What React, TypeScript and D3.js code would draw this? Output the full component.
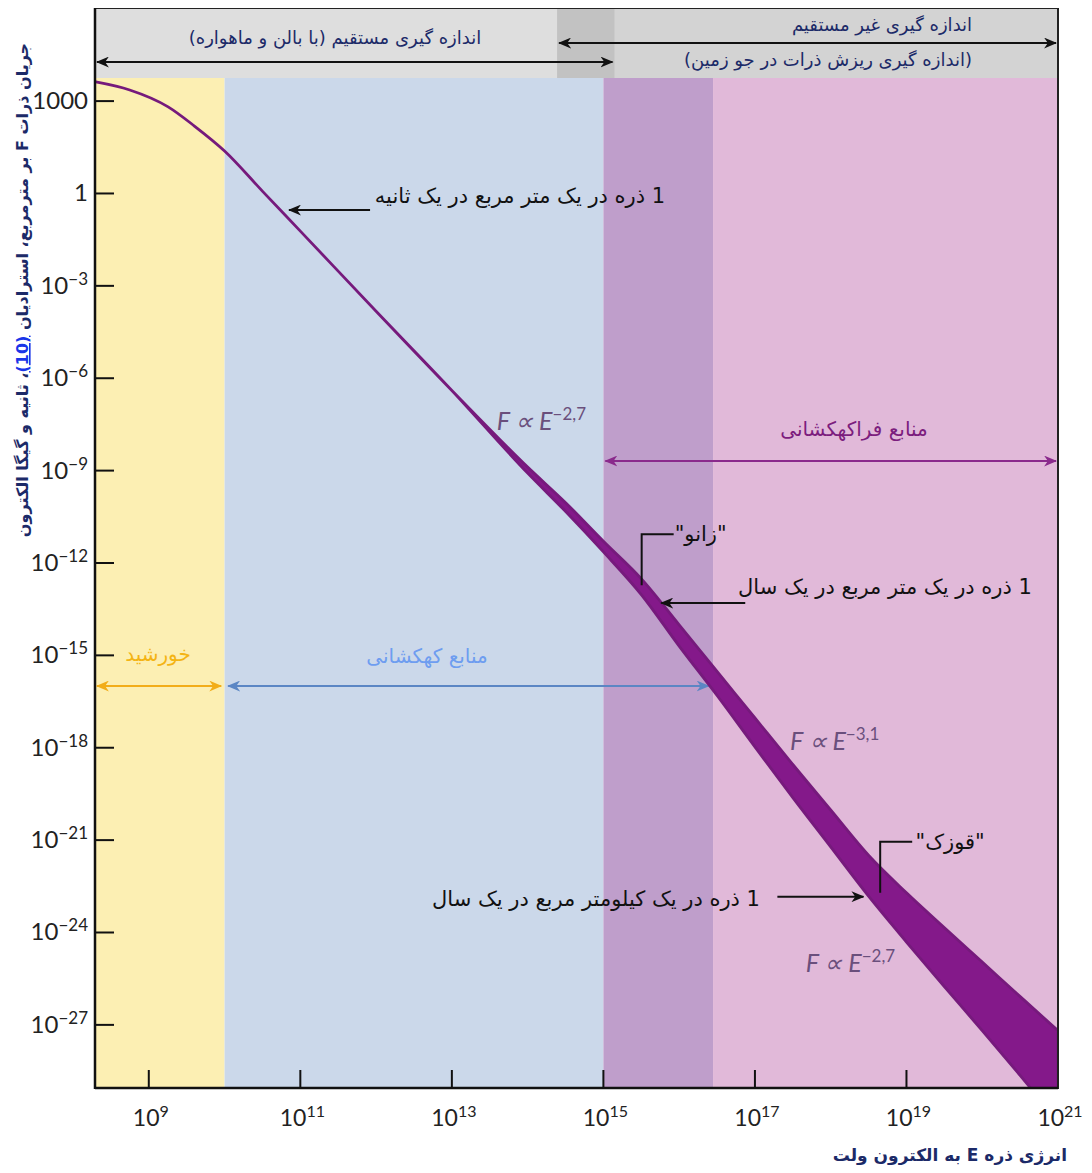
import React from "react";
import * as d3 from "d3";

// energy grid (eV) and the upper / lower edge of the flux band (m^-2 sr^-1 s^-1 GeV^-1)
const spectrumEnergy = [
  2.0e8, 5.6e8, 1.8e9, 4.0e9, 1e10, 3.2e10, 1e11, 1e12, 1e13, 1e14, 3.2e14, 1e15,
  3.2e15, 1e16, 3.2e16, 1e17, 3.2e17, 1e18, 3.2e18, 1e19, 3.2e19, 1e20, 3.2e20, 1e21,
];
const fluxUpper = [
  4.2e3, 2.3e3, 6.5e2, 1.55e2, 24, 1.15, 6.0e-2, 1.5e-4, 4.0e-7, 1.3e-9, 8.9e-11, 5.1e-12,
  3.0e-13, 9.8e-15, 2.9e-16, 9.3e-18, 2.75e-19, 9.5e-21, 3.1e-22, 1.95e-23, 1.4e-24, 1.1e-25,
  8.1e-27, 6.5e-28,
];
const fluxLower = [
  4.2e3, 2.3e3, 6.5e2, 1.55e2, 24, 1.15, 6.0e-2, 1.5e-4, 4.0e-7, 8.3e-10, 4.6e-11, 2.3e-12,
  9.1e-14, 2.0e-15, 4.8e-17, 1.07e-18, 2.3e-20, 6.0e-22, 1.45e-23, 4.9e-25, 1.7e-26, 6.5e-28,
  2.2e-29, 7.6e-31,
];

// shaded energy regions
const regionStart = [1.95e8, 1e10, 1e15, 2.8e16];
const regionEnd = [1e10, 1e15, 2.8e16, 1e21];

// source ranges (arrows)
const sourceNames = ["خورشید", "منابع کهکشانی", "منابع فراکهکشانی"];
const sourceFrom = [1.95e8, 1.05e10, 1e15];
const sourceTo = [9.6e9, 2.6e16, 1e21];

// measurement ranges in the header
const measureFrom = [1.95e8, 2.45e14];
const measureTo = [1.4e15, 1e21];

// reference fluxes pointed at by the arrows
const markerText = [
  "1 ذره در یک متر مربع در یک ثانیه",
  "1 ذره در یک متر مربع در یک سال",
  "1 ذره در یک کیلومتر مربع در یک سال",
];
const markerEnergy = [7.1e10, 5.8e15, 2.7e18];
const markerFlux = [0.29, 5.0e-14, 1.45e-23];

// knee and ankle
const featureNames = ['"زانو"', '"قوزک"'];
const featureEnergy = [3.2e15, 4.5e18];
const featureFlux = [1.9e-13, 1.95e-23];

// power-law labels
const slopeLabels = ["−2,7", "−3,1", "−2,7"];
const slopeEnergy = [3.9e13, 2.9e17, 4.7e17];
const slopeFlux = [2.1e-8, 8.5e-19, 5.2e-26];

const xTickExp = [9, 11, 13, 15, 17, 19, 21];
const yTickExp = [3, 0, -3, -6, -9, -12, -15, -18, -21, -24, -27];

const W = 1092;
const H = 1173;
const left = 95;
const right = 1058;
const top = 8;
const headerH = 70;
const bottom = 1088;

const regionColors = ["#fcefb3", "#cbd8ea", "#bf9ecb", "#e1b9d9"];
const sourceColors = ["#f2ad1a", "#5b86c4", "#8a2a8c"];
const sourceTextColors = ["#f4b414", "#6e9df0", "#7c1d7e"];
const fa = "'DejaVu Sans', 'Noto Sans', sans-serif";
const lat = "Lato, 'Open Sans', sans-serif";
const navy = "#1c2a68";

const App = () => {
  const x = d3.scaleLog().domain([1.95e8, 1e21]).range([left, right]);
  const y = d3.scaleLog().domain([10 ** -29.05, 10 ** 3.75]).range([bottom, top + headerH]);

  const band = d3
    .area<number>()
    .x((i) => x(spectrumEnergy[i]))
    .y0((i) => y(fluxLower[i]))
    .y1((i) => y(fluxUpper[i]))
    .curve(d3.curveMonotoneX);
  const idx = d3.range(spectrumEnergy.length);

  const arrowDefs = [
    { id: "ah-black", c: "#111" },
    { id: "ah-0", c: sourceColors[0] },
    { id: "ah-1", c: sourceColors[1] },
    { id: "ah-2", c: sourceColors[2] },
  ];

  const headerY = [62, 43];
  const sourceY = [686, 686, 461];
  const sourceLabelY = [661, 663, 436];
  const sourceLabelX = [158, 427, 854];

  return (
    <svg width={W} height={H} style={{ display: "block", margin: "-8px" }}>
      <defs>
        {arrowDefs.map((a) => (
          <marker
            key={a.id}
            id={a.id}
            viewBox="0 0 12 10"
            refX="11"
            refY="5"
            markerWidth="13"
            markerHeight="11"
            markerUnits="userSpaceOnUse"
            orient="auto-start-reverse"
          >
            <path d="M0,0 L12,5 L0,10 L3.5,5 Z" fill={a.c} />
          </marker>
        ))}
        <clipPath id="plot-clip">
          <rect x={left} y={top + headerH} width={right - left} height={bottom - top - headerH} />
        </clipPath>
      </defs>
      <rect width={W} height={H} fill="#fff" />

      {/* header */}
      <rect x={left} y={top} width={right - left} height={headerH} fill="#d6d6d6" />
      <rect x={x(measureFrom[0])} y={top} width={x(measureTo[0]) - x(measureFrom[0])} height={headerH} fill="#dedede" />
      <rect x={x(measureFrom[1])} y={top} width={x(measureTo[1]) - x(measureFrom[1])} height={headerH} fill="#d3d3d3" />
      <rect x={x(measureFrom[1])} y={top} width={x(measureTo[0]) - x(measureFrom[1])} height={headerH} fill="#c2c2c2" />

      {/* energy regions */}
      {regionStart.map((s, i) => (
        <rect
          key={i}
          x={x(s)}
          y={top + headerH}
          width={x(regionEnd[i]) - x(s)}
          height={bottom - top - headerH}
          fill={regionColors[i]}
        />
      ))}

      {/* header arrows and text */}
      {measureFrom.map((m, i) => (
        <line
          key={i}
          x1={x(m) + 2}
          x2={x(measureTo[i]) - 2}
          y1={headerY[i]}
          y2={headerY[i]}
          stroke="#111"
          strokeWidth={2}
          markerStart="url(#ah-black)"
          markerEnd="url(#ah-black)"
        />
      ))}
      <g fontFamily={fa} fill={navy} fontSize={18} textAnchor="middle" direction="rtl">
        <text x={335} y={44}>اندازه گیری مستقیم (با بالن و ماهواره)</text>
        <text x={882} y={31}>اندازه گیری غیر مستقیم</text>
        <text x={828} y={66}>(اندازه گیری ریزش ذرات در جو زمین)</text>
      </g>

      {/* source ranges */}
      {sourceNames.map((n, i) => (
        <g key={n}>
          <line
            x1={x(sourceFrom[i]) + 2}
            x2={x(sourceTo[i]) - 2}
            y1={sourceY[i]}
            y2={sourceY[i]}
            stroke={sourceColors[i]}
            strokeWidth={2}
            markerStart={`url(#ah-${i})`}
            markerEnd={`url(#ah-${i})`}
          />
          <text
            x={sourceLabelX[i]}
            y={sourceLabelY[i]}
            fontFamily={fa}
            fontSize={20}
            fill={sourceTextColors[i]}
            textAnchor="middle"
            direction="rtl"
          >
            {n}
          </text>
        </g>
      ))}

      {/* spectrum */}
      <g clipPath="url(#plot-clip)">
        <path d={band(idx) || ""} fill="#84198a" stroke="#761a7c" strokeWidth={2.8} strokeLinejoin="round" />
      </g>

      {/* markers */}
      {markerText.map((t, i) => {
        const tx = x(markerEnergy[i]);
        const ty = y(markerFlux[i]);
        const toRight = i === 2;
        const x0 = toRight ? tx - 86 : tx + (i === 0 ? 81 : 84);
        const textX = [520, 885, 596][i];
        const textY = [203, 594, 906][i];
        return (
          <g key={i}>
            <line x1={x0} x2={tx} y1={ty} y2={ty} stroke="#111" strokeWidth={2} markerEnd="url(#ah-black)" />
            <text x={textX} y={textY} fontFamily={fa} fontSize={21} fill="#111" textAnchor="middle" direction="rtl">
              {t}
            </text>
          </g>
        );
      })}

      {/* knee / ankle brackets */}
      {featureNames.map((n, i) => {
        const fx = x(featureEnergy[i]);
        const fy = y(featureFlux[i]);
        const hy = fy - 51;
        return (
          <g key={n}>
            <path d={`M${fx},${fy} V${hy} H${fx + 32}`} fill="none" stroke="#111" strokeWidth={2} />
            <text x={fx + 59 + i * 11} y={hy + 7} fontFamily={fa} fontSize={21} fill="#111" textAnchor="middle" direction="rtl">
              {n}
            </text>
          </g>
        );
      })}

      {/* power laws */}
      {slopeLabels.map((s, i) => (
        <text key={i} x={x(slopeEnergy[i])} y={y(slopeFlux[i])} fontFamily={lat} fontStyle="italic" fontSize={25} fill="#6a4f7c">
          F ∝ E<tspan dy={-10} fontSize={17} fontStyle="normal">{s}</tspan>
        </text>
      ))}

      {/* frame */}
      <rect x={left} y={top} width={right - left} height={bottom - top} fill="none" stroke="#222" strokeWidth={2} />
      <line x1={left} x2={left} y1={top} y2={bottom + 1} stroke="#111" strokeWidth={2.5} />
      <line x1={left} x2={right} y1={bottom} y2={bottom} stroke="#111" strokeWidth={2.5} />

      {/* y axis */}
      {yTickExp.map((e) => {
        const ty = y(10 ** e);
        return (
          <g key={e}>
            <line x1={left} x2={left + 19} y1={ty} y2={ty} stroke="#111" strokeWidth={2} />
            <text x={88} y={ty + 8} fontFamily={lat} fontSize={24} fill="#222" textAnchor="end">
              {e === 3 ? "1000" : e === 0 ? "1" : (
                <>
                  10<tspan dy={-9} fontSize={17}>{`−${-e}`}</tspan>
                </>
              )}
            </text>
          </g>
        );
      })}

      {/* x axis */}
      {xTickExp.map((e) => {
        const tx = x(10 ** e);
        return (
          <g key={e}>
            {e < 21 && <line x1={tx} x2={tx} y1={bottom} y2={bottom - 18} stroke="#111" strokeWidth={2} />}
            <text x={tx + 2} y={1126} fontFamily={lat} fontSize={23} fill="#222" textAnchor="middle">
              10<tspan dy={-9} fontSize={16}>{e}</tspan>
            </text>
          </g>
        );
      })}

      {/* axis titles */}
      <text x={1067} y={1161} fontFamily={fa} fontWeight="bold" fontSize={17} fill={navy} textAnchor="start" direction="rtl">
        انرژی ذره E به الکترون ولت
      </text>
      <text
        transform="translate(28,290) rotate(-90)"
        fontFamily={fa}
        fontWeight="bold"
        fontSize={16}
        fill={navy}
        textAnchor="middle"
        direction="rtl"
      >
        جریان ذرات F بر مترمربع، استرادیان <tspan fill="#1a35e8" textDecoration="underline">(10)</tspan>، ثانیه و گیگا الکترون
      </text>
    </svg>
  );
};

export default App;
